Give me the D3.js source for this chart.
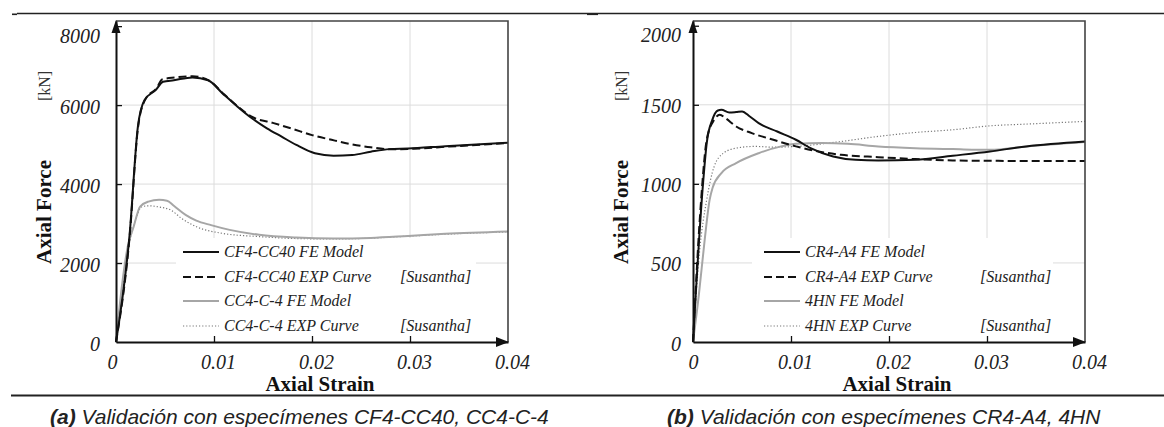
<!DOCTYPE html>
<html lang="es">
<head>
<meta charset="UTF-8">
<title>Validación FE vs EXP</title>
<script src="https://d3js.org/d3.v7.min.js"></script>
<style>
  body { margin: 0; background: #fff; }
  svg { display: block; }
  .tick text { font-family: "Liberation Serif", "Times New Roman", serif; font-style: italic; font-size: 20px; fill: #222; }
  .legend text { font-family: "Liberation Serif", "Times New Roman", serif; font-style: italic; font-size: 16px; fill: #222; }
  .title { font-family: "Liberation Serif", "Times New Roman", serif; font-weight: bold; font-size: 21px; fill: #111; }
  .unit { font-family: "Liberation Serif", "Times New Roman", serif; font-size: 16px; fill: #333; }
  .caption { font-family: "Liberation Sans", Arial, sans-serif; font-style: italic; font-size: 21px; fill: #222; }
</style>
</head>
<body>
<svg id="chart" width="1164" height="427"></svg>
<script>
// strain values / tick labels
const strainTicks = [0, 0.01, 0.02, 0.03, 0.04];
const forceTicksA = [0, 2000, 4000, 6000, 8000];
const forceTicksB = [0, 500, 1000, 1500, 2000];

// (a) CF4-CC40 / CC4-C-4  -- [strain, kN]
const cf4cc40Fe = [[0,0],[0.0014,2755],[0.00223,5450],[0.0029,6125],[0.00405,6380],[0.0048,6590],[0.0059,6630],[0.0078,6700],[0.0094,6630],[0.0109,6290],[0.0124,5960],[0.0139,5660],[0.0154,5410],[0.0169,5200],[0.0184,4990],[0.0203,4780],[0.0222,4720],[0.0241,4735],[0.026,4820],[0.0279,4885],[0.0298,4900],[0.0336,4960],[0.04,5045]];
const cf4cc40Exp = [[0,0],[0.0014,2700],[0.00223,5400],[0.0029,6100],[0.0042,6450],[0.0047,6650],[0.006,6700],[0.0078,6730],[0.0095,6620],[0.011,6280],[0.0125,5950],[0.0139,5700],[0.016,5550],[0.018,5400],[0.02,5240],[0.022,5120],[0.024,5010],[0.026,4930],[0.028,4880],[0.03,4890],[0.034,4950],[0.04,5040]];
const cc4c4Fe = [[0,0],[0.00064,1490],[0.0012,2420],[0.0018,2920],[0.00246,3430],[0.0033,3555],[0.0044,3600],[0.0052,3580],[0.0059,3450],[0.0071,3220],[0.0082,3075],[0.0097,2960],[0.0116,2840],[0.0146,2715],[0.0184,2645],[0.0222,2620],[0.026,2635],[0.0298,2685],[0.0336,2740],[0.04,2800]];
const cc4c4Exp = [[0,0],[0.0007,1300],[0.0012,2300],[0.0019,3000],[0.0026,3420],[0.0033,3450],[0.0044,3420],[0.0056,3340],[0.0067,3130],[0.0082,2920],[0.0109,2750],[0.0146,2670],[0.0184,2620],[0.0222,2610],[0.026,2630],[0.0298,2680],[0.0336,2730],[0.04,2790]];

// (b) CR4-A4 / 4HN  -- [strain, kN]
const cr4a4Fe = [[0,0],[0.001,984],[0.0014,1258],[0.00197,1405],[0.00254,1464],[0.0029,1468],[0.0037,1451],[0.0044,1454],[0.005,1458],[0.0058,1426],[0.0067,1384],[0.0086,1331],[0.0105,1279],[0.012,1226],[0.0143,1173],[0.0166,1152],[0.0189,1148],[0.0227,1152],[0.0265,1178],[0.0303,1205],[0.034,1237],[0.04,1268]];
const cr4a4Exp = [[0,0],[0.00083,900],[0.0014,1279],[0.00216,1405],[0.00273,1437],[0.0033,1416],[0.0044,1363],[0.006,1321],[0.0082,1279],[0.0105,1237],[0.0128,1205],[0.0151,1184],[0.0189,1169],[0.0227,1157],[0.0265,1148],[0.0303,1146],[0.034,1144],[0.04,1144]];
const hn4Fe = [[0,0],[0.0006,300],[0.0012,650],[0.0017,900],[0.002,975],[0.0029,1068],[0.0044,1131],[0.0067,1194],[0.009,1237],[0.0105,1253],[0.0132,1258],[0.0158,1253],[0.0189,1237],[0.0227,1226],[0.0265,1220],[0.0303,1215],[0.034,1237],[0.04,1265]];
const hn4Exp = [[0,0],[0.00065,560],[0.0014,900],[0.00216,1110],[0.0031,1194],[0.0044,1226],[0.0063,1237],[0.0082,1232],[0.0105,1237],[0.0151,1268],[0.0189,1300],[0.0227,1325],[0.0265,1342],[0.0303,1367],[0.034,1378],[0.04,1395]];

const legendA = ["CF4-CC40 FE Model", "CF4-CC40 EXP Curve", "CC4-C-4 FE Model", "CC4-C-4 EXP Curve"];
const legendB = ["CR4-A4 FE Model", "CR4-A4 EXP Curve", "4HN FE Model", "4HN EXP Curve"];
const sourceLabel = "[Susantha]";

const styles = [
  { stroke: "#111", width: 2, dash: null },
  { stroke: "#111", width: 2, dash: "8,4" },
  { stroke: "#a6a6a6", width: 2, dash: null },
  { stroke: "#777", width: 1.2, dash: "1.2,2" }
];

const svg = d3.select("#chart");

// page rules
svg.append("line").attr("x1", 17).attr("x2", 1164).attr("y1", 13.5).attr("y2", 13.5)
  .attr("stroke", "#222").attr("stroke-width", 1.3);
[12, 587].forEach(x0 => svg.append("rect").attr("x", x0).attr("y", 13.5).attr("width", x0 === 12 ? 5 : 11).attr("height", 1.6).attr("fill", "#222"));
svg.append("line").attr("x1", 11).attr("x2", 1164).attr("y1", 395.5).attr("y2", 395.5)
  .attr("stroke", "#222").attr("stroke-width", 2);

function panel(cfg) {
  const x = d3.scaleLinear().domain([0, 0.04]).range([cfg.left, cfg.right]);
  const y = d3.scaleLinear().domain([0, cfg.yMax]).range([342, 21]);
  const g = svg.append("g");

  // grid
  g.selectAll(".gx").data(strainTicks.slice(1, -1)).enter().append("line")
    .attr("x1", d => x(d)).attr("x2", d => x(d)).attr("y1", y.range()[1]).attr("y2", y(0))
    .attr("stroke", "#dcdcdc").attr("stroke-width", 1);
  g.selectAll(".gy").data(cfg.yTicks.slice(1, -1)).enter().append("line")
    .attr("x1", x(0)).attr("x2", x(0.04)).attr("y1", d => y(d)).attr("y2", d => y(d))
    .attr("stroke", "#dcdcdc").attr("stroke-width", 1);

  // legend background hides the grid
  g.append("rect").attr("x", cfg.legBox[0]).attr("y", 238)
    .attr("width", cfg.legBox[1] - cfg.legBox[0]).attr("height", 103).attr("fill", "#fff");

  // curves
  const line = d3.line().x(d => x(d[0])).y(d => y(d[1])).curve(d3.curveMonotoneX);
  [3, 2, 1, 0].forEach(i => {
    g.append("path").datum(cfg.series[i]).attr("d", line)
      .attr("fill", "none").attr("stroke", styles[i].stroke)
      .attr("stroke-width", styles[i].width).attr("stroke-dasharray", styles[i].dash)
      .attr("stroke-linejoin", "round");
  });

  // frame top/right
  g.append("path")
    .attr("d", `M${x(0)},${y.range()[1]}H${x(0.04)}V${y(0)}`)
    .attr("fill", "none").attr("stroke", "#444").attr("stroke-width", 1.6);

  // axes
  const xAxis = g.append("g").attr("transform", `translate(0,${y(0)})`)
    .call(d3.axisBottom(x).tickValues(strainTicks).tickSize(-6).tickSizeOuter(0).tickPadding(13)
      .tickFormat(d => d === 0 ? "0" : d3.format(".2f")(d)));
  xAxis.selectAll(".tick text").attr("dx", d => d === 0 ? cfg.zeroDx : 4);
  const yAxis = g.append("g").attr("transform", `translate(${x(0)},0)`)
    .call(d3.axisLeft(y).tickValues(cfg.yTicks).tickSize(-6).tickSizeOuter(0).tickPadding(cfg.yPad)
      .tickFormat(d3.format("d")));
  yAxis.selectAll(".tick text").attr("dy", (d, i) => i === cfg.yTicks.length - 1 ? "0.8em" : "0.4em");
  [xAxis, yAxis].forEach(a => {
    a.select(".domain").attr("stroke", "#111").attr("stroke-width", 2);
    a.selectAll(".tick line").attr("stroke", "#111").attr("stroke-width", 1.3);
  });
  xAxis.selectAll(".tick").filter(d => d === 0 || d === 0.04).select("line").remove();
  yAxis.selectAll(".tick").filter(d => d === 0).select("line").remove();

  // arrowheads
  const x0 = x(0), xe = x(0.04), y0 = y(0), ye = y.range()[1];
  g.append("path").attr("d", `M${x0},${ye - 1}L${x0 - 4.5},${ye + 12}L${x0 + 4.5},${ye + 12}Z`).attr("fill", "#111");
  g.append("path").attr("d", `M${xe + 1},${y0}L${xe - 12},${y0 - 5}L${xe - 12},${y0 + 5}Z`).attr("fill", "#111");

  // titles
  g.append("text").attr("class", "title").attr("text-anchor", "middle")
    .attr("x", (x0 + xe) / 2 + 8).attr("y", 391).text("Axial Strain");
  g.append("text").attr("class", "title").attr("text-anchor", "middle")
    .attr("transform", `translate(${x0 - 65},212) rotate(-90)`).text("Axial Force");
  g.append("text").attr("class", "unit").attr("text-anchor", "middle")
    .attr("transform", `translate(${x0 - 66},86) rotate(-90)`).text("[kN]");

  // legend
  const leg = g.append("g").attr("class", "legend");
  const rows = [252, 277, 301, 326];
  cfg.legend.forEach((name, i) => {
    leg.append("line").attr("x1", cfg.legX).attr("x2", cfg.legX + 36)
      .attr("y1", rows[i]).attr("y2", rows[i])
      .attr("stroke", styles[i].stroke).attr("stroke-width", styles[i].width)
      .attr("stroke-dasharray", styles[i].dash);
    leg.append("text").attr("x", cfg.legX + 41).attr("y", rows[i] + 5).text(name);
    if (i % 2 === 1) leg.append("text").attr("x", cfg.srcX).attr("y", rows[i] + 5).text(sourceLabel);
  });

  // caption
  const cap = svg.append("text").attr("class", "caption").attr("x", cfg.capX).attr("y", 424);
  cap.append("tspan").attr("font-weight", "bold").text(cfg.capTag);
  cap.append("tspan").text(cfg.capText);
}

panel({
  left: 116, right: 508, yMax: 8130, yTicks: forceTicksA, yPad: 16, zeroDx: -4,
  series: [cf4cc40Fe, cf4cc40Exp, cc4c4Fe, cc4c4Exp], legend: legendA,
  legX: 183, srcX: 400, legBox: [176, 476],
  capX: 50, capTag: "(a)", capText: " Validación con especímenes CF4-CC40, CC4-C-4"
});
panel({
  left: 693, right: 1085, yMax: 2030, yTicks: forceTicksB, yPad: 12, zeroDx: 0,
  series: [cr4a4Fe, cr4a4Exp, hn4Fe, hn4Exp], legend: legendB,
  legX: 764, srcX: 980, legBox: [752, 1053],
  capX: 667, capTag: "(b)", capText: " Validación con especímenes CR4-A4, 4HN"
});
</script>
</body>
</html>
